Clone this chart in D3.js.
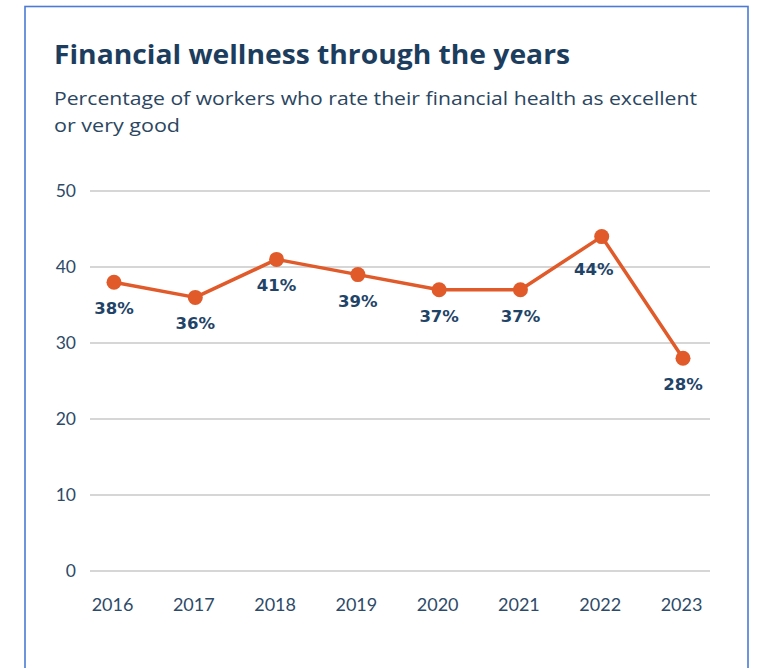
<!DOCTYPE html>
<html>
<head>
<meta charset="utf-8">
<script src="https://cdn.jsdelivr.net/npm/d3@7"></script>
<style>
  html, body { margin: 0; padding: 0; background: #ffffff; }
  svg { display: block; }
</style>
</head>
<body>
<svg id="chart" width="759" height="668"></svg>
<script>
// Survey results: share of workers rating their financial health excellent / very good
const years = ["2016", "2017", "2018", "2019", "2020", "2021", "2022", "2023"];
const shares = [38, 36, 41, 39, 37, 37, 44, 28];
const yTicks = [0, 10, 20, 30, 40, 50];

const title = "Financial wellness through the years";
const subtitleLines = [
  "Percentage of workers who rate their financial health as excellent",
  "or very good"
];

const svg = d3.select("#chart");

// card outline
svg.append("rect")
  .attr("x", 25).attr("y", 6.5)
  .attr("width", 723).attr("height", 700)
  .attr("fill", "#ffffff")
  .attr("stroke", "#4c7ad6")
  .attr("stroke-width", 1.6);

const headFont = "'Open Sans', Lato, sans-serif";
const axisFont = "Lato, 'Open Sans', sans-serif";
const valueFont = "'DejaVu Sans', Verdana, sans-serif";

// stretch a text node to a given overall width
function fitWidth(sel, width) {
  sel.attr("textLength", width).attr("lengthAdjust", "spacingAndGlyphs");
}

// title + subtitle
svg.append("text")
  .attr("x", 54).attr("y", 64)
  .attr("font-family", headFont)
  .attr("font-weight", 700)
  .attr("font-size", 27)
  .attr("fill", "#1c3d5d")
  .text(title)
  .call(fitWidth, 516);

const subWidths = [643, 126];
svg.selectAll("text.sub")
  .data(subtitleLines)
  .join("text")
  .attr("class", "sub")
  .attr("x", 54)
  .attr("y", (d, i) => 105 + i * 27)
  .attr("font-family", headFont)
  .attr("font-weight", 500)
  .attr("font-size", 18)
  .attr("fill", "#2b4661")
  .text(d => d)
  .each(function (d, i) { d3.select(this).call(fitWidth, subWidths[i]); });

// scales
const x = d3.scalePoint().domain(years).range([114, 683]);
const y = d3.scaleLinear().domain([0, 50]).range([571, 191]);

// horizontal gridlines
svg.append("g")
  .selectAll("line")
  .data(yTicks)
  .join("line")
  .attr("x1", 90).attr("x2", 710)
  .attr("y1", d => y(d)).attr("y2", d => y(d))
  .attr("stroke", "#d6d6d6")
  .attr("stroke-width", 2);

// y axis labels
const yAxis = d3.axisLeft(y).tickValues(yTicks).tickSize(0).tickPadding(0);
const gy = svg.append("g").attr("transform", "translate(76,0)").call(yAxis);
gy.select(".domain").remove();
gy.selectAll("text")
  .attr("font-family", axisFont)
  .attr("font-size", 17.5)
  .attr("fill", "#2d4a68");

// x axis labels
const xAxis = d3.axisBottom(x).tickSize(0).tickPadding(0);
const gx = svg.append("g").attr("transform", "translate(-2,598)").call(xAxis);
gx.select(".domain").remove();
gx.selectAll("text")
  .attr("font-family", axisFont)
  .attr("font-size", 18)
  .attr("fill", "#2d4a68");

// line + markers
const pts = years.map((yr, i) => ({ yr, v: shares[i] }));
const orange = "#e05a2a";

svg.append("path")
  .datum(pts)
  .attr("fill", "none")
  .attr("stroke", orange)
  .attr("stroke-width", 3.5)
  .attr("stroke-linejoin", "round")
  .attr("d", d3.line().x(d => x(d.yr)).y(d => y(d.v)));

svg.append("g")
  .selectAll("circle")
  .data(pts)
  .join("circle")
  .attr("cx", d => x(d.yr))
  .attr("cy", d => y(d.v))
  .attr("r", 7.5)
  .attr("fill", orange);

// value labels
const labelDx = { "2022": -8 };
const labelDy = { "2022": 38 };
svg.append("g")
  .selectAll("text")
  .data(pts)
  .join("text")
  .attr("x", d => x(d.yr) + (labelDx[d.yr] || 0))
  .attr("y", d => y(d.v) + (labelDy[d.yr] || 32))
  .attr("text-anchor", "middle")
  .attr("font-family", valueFont)
  .attr("font-weight", 700)
  .attr("font-size", 16.5)
  .attr("fill", "#1f4468")
  .text(d => d.v + "%");
</script>
</body>
</html>
